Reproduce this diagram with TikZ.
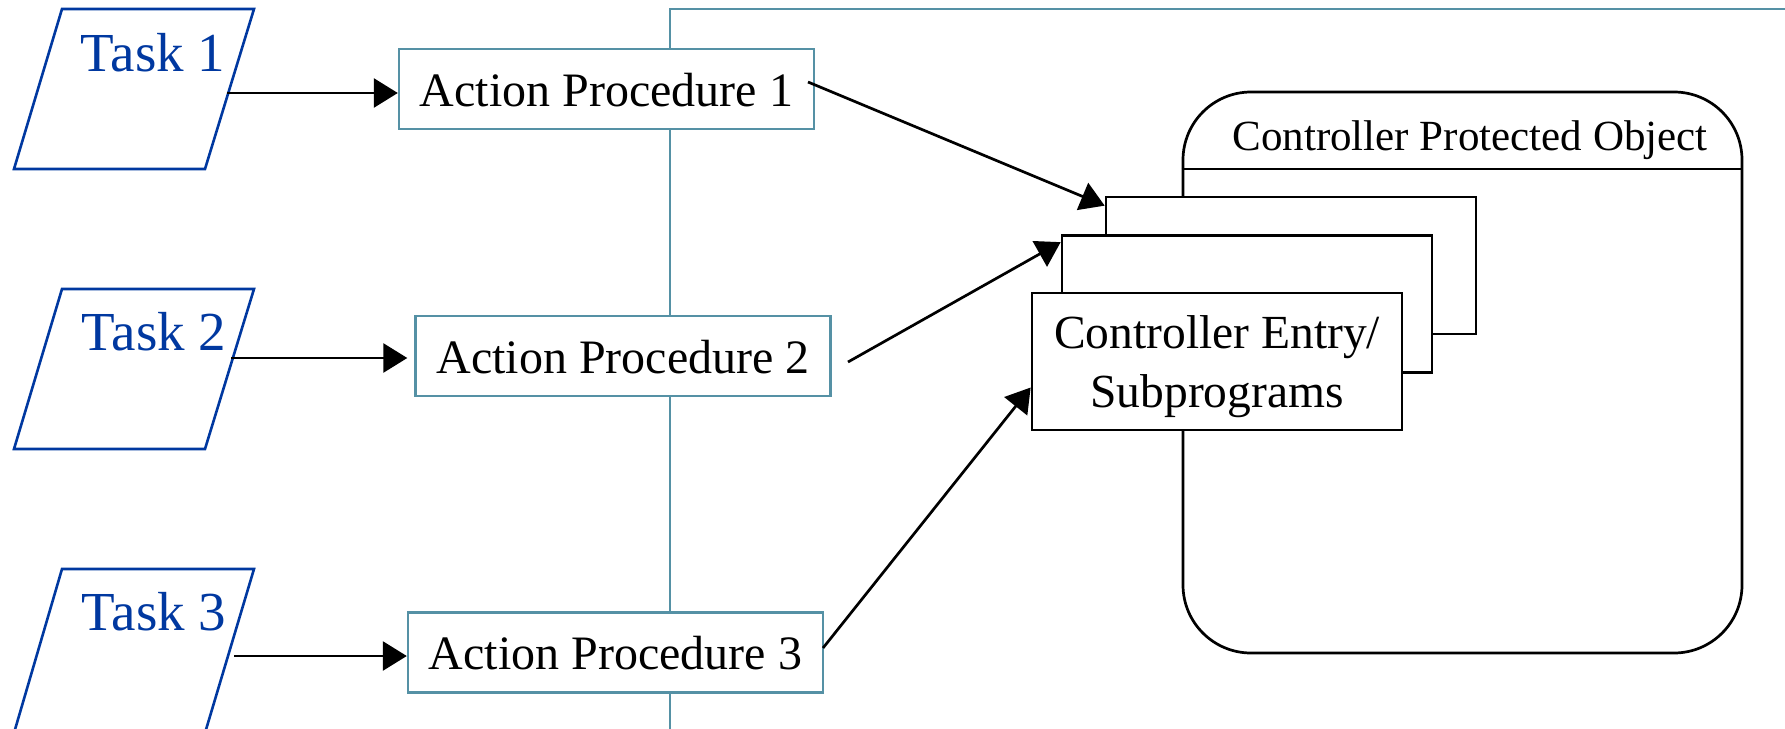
\documentclass[tikz,border=0pt]{standalone}
\usepackage{fontspec}
\setmainfont{Liberation Serif}
\usetikzlibrary{arrows.meta,calc}
\definecolor{taskblue}{RGB}{0,56,160}
\definecolor{frameteal}{RGB}{85,145,165}
\begin{document}
\begin{tikzpicture}[x=1pt,y=-1pt,
  apbox/.style={draw=frameteal,line width=2.4pt,fill=white,minimum width=415pt,minimum height=80pt,inner sep=0pt,text height=34pt,text depth=0pt,font=\fontsize{48}{56}\selectfont},
  tasktext/.style={text=taskblue,anchor=base,inner sep=0pt,font=\fontsize{55}{66}\selectfont},
  taskshape/.style={draw=taskblue,line width=2.6pt},
  stackbox/.style={draw,line width=2.7pt,fill=white,inner sep=0pt,minimum width=370pt,minimum height=137pt},
  conn/.style={line width=2.7pt,-{Triangle[length=24pt,width=29pt]}},
]
\useasboundingbox (0,0) rectangle (1785,728);
% frame line
\draw[frameteal,line width=2.4pt] (670,740) -- (670,9) -- (1790,9);
% tasks
\draw[taskshape] (62,9) -- (254,9) -- (205,169) -- (14,169) -- cycle;
\draw[taskshape] (62,289) -- (254,289) -- (205,449) -- (14,449) -- cycle;
\draw[taskshape] (62,569) -- (254,569) -- (205,733) -- (14,733) -- cycle;
\node[tasktext] (task1) at (153,71) {Task 1};
\node[tasktext] (task2) at (154,350) {Task 2};
\node[tasktext] (task3) at (154,630) {Task 3};
% action procedures
\node[apbox] (ap1) at (606.5,89) {Action Procedure 1};
\node[apbox] (ap2) at (623,356) {Action Procedure 2};
\node[apbox] (ap3) at (615.5,652.5) {Action Procedure 3};
% protected object
\node[draw,line width=2.7pt,rounded corners=68pt,minimum width=559pt,minimum height=561pt,inner sep=0pt] (po) at (1462.5,372.5) {};
\coordinate (hd) at (0,169);
\draw[line width=2.7pt] (po.west |- hd) -- (po.east |- hd);
\node[anchor=base,inner sep=0pt,font=\fontsize{43}{50}\selectfont] (title) at (1470,150) {Controller Protected Object};
% stacked entries
\node[stackbox] (back) at (1291,265.5) {};
\node[stackbox] (mid) at (1247,304) {};
\node[stackbox,align=center,font=\fontsize{47.5}{59}\selectfont,text depth=0pt] (front) at (1217,361.5) {Controller Entry/\\Subprograms};
% connectors
\coordinate (t1e) at (227,93);
\coordinate (t2e) at (231,358);
\coordinate (t3e) at (234,656);
\draw[conn] (t1e) -- (t1e -| ap1.west);
\draw[conn,shorten >=7pt] (t2e) -- (t2e -| ap2.west);
\draw[conn] (t3e) -- (t3e -| ap3.west);
\coordinate (a1s) at (808,82);
\coordinate (a2s) at (848,362);
\coordinate (a3s) at (823,648);
\draw[conn] (a1s) -- ([yshift=-10pt]back.north west);
\draw[conn] (a2s) -- ([yshift=-8pt]mid.north west);
\draw[conn] (a3s) -- ([yshift=-26pt]front.west);
\end{tikzpicture}
\end{document}
